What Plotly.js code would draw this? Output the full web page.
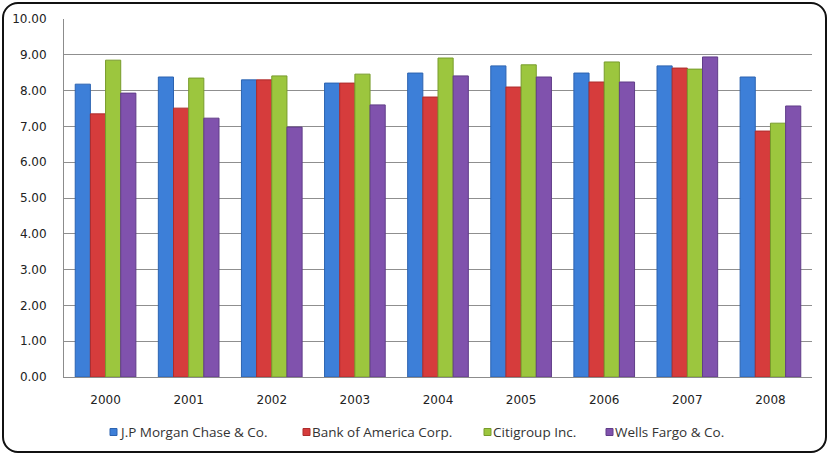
<!DOCTYPE html>
<html>
<head>
<meta charset="utf-8">
<script src="https://cdn.plot.ly/plotly-3.0.1.min.js"></script>
<style>
html,body{margin:0;padding:0;background:#fff;}
#chart{position:absolute;left:0;top:0;width:829px;height:455px;}
#frame{position:absolute;left:2px;top:2px;width:821px;height:447px;border:2px solid #111;border-radius:16px;pointer-events:none;}
</style>
</head>
<body>
<div id="chart"></div>
<div id="frame"></div>
<script>
const years = ["2000","2001","2002","2003","2004","2005","2006","2007","2008"];
const jpMorgan = [8.18, 8.38, 8.30, 8.21, 8.49, 8.69, 8.49, 8.69, 8.38];
const bankOfAmerica = [7.35, 7.51, 8.30, 8.21, 7.82, 8.10, 8.24, 8.63, 6.87];
const citigroup = [8.85, 8.35, 8.41, 8.46, 8.91, 8.72, 8.80, 8.60, 7.09];
const wellsFargo = [7.93, 7.23, 6.98, 7.60, 8.41, 8.38, 8.24, 8.94, 7.57];
const seriesNames = ["J.P Morgan Chase & Co.", "Bank of America Corp.", "Citigroup Inc.", "Wells Fargo & Co."];
const yTickVals = [0,1,2,3,4,5,6,7,8,9,10];
const yTickText = ["0.00","1.00","2.00","3.00","4.00","5.00","6.00","7.00","8.00","9.00","10.00"];

const colors = ["#3d7fd8", "#d63c3c", "#9cc63e", "#8052ad"];
const lines = ["#2c63b0", "#ad2c2c", "#789c2c", "#603d88"];
const allSeries = [jpMorgan, bankOfAmerica, citigroup, wellsFargo];

const traces = allSeries.map((vals, i) => ({
  type: "bar",
  name: seriesNames[i],
  x: years,
  y: vals,
  marker: {color: colors[i], line: {color: lines[i], width: 1}},
  hoverinfo: "x+y+name",
  showlegend: false
}));

// Manual legend (Excel-style: small square right next to the text)
const W = 829, H = 455, ML = 64, MR = 17, MT = 19, MB = 78;
const PW = W - ML - MR, PH = H - MT - MB;
const px2x = p => (p - ML) / PW;
const py2y = p => (H - MB - p) / PH;
const legendTextLeft = [119, 312, 493, 615];
const legendY = 432;
const shapes = [];
const annotations = [];
seriesNames.forEach((name, i) => {
  const sx = legendTextLeft[i] - 9;
  shapes.push({
    type: "rect", xref: "paper", yref: "paper",
    x0: px2x(sx), x1: px2x(sx + 7), y0: py2y(legendY + 3.5), y1: py2y(legendY - 3.5),
    fillcolor: colors[i], line: {color: lines[i], width: 1}
  });
  annotations.push({
    xref: "paper", yref: "paper", x: px2x(legendTextLeft[i] - 2), y: py2y(legendY),
    xanchor: "left", yanchor: "middle", showarrow: false, text: name,
    font: {family: "Open Sans, Liberation Sans, sans-serif", size: 13.5, color: "#333"}
  });
});

const layout = {
  width: W, height: H,
  margin: {l: ML, r: MR, t: MT, b: MB},
  paper_bgcolor: "rgba(0,0,0,0)",
  plot_bgcolor: "#fff",
  barmode: "group",
  bargap: 0.27,
  bargroupgap: 0,
  showlegend: false,
  shapes: shapes,
  annotations: annotations,
  xaxis: {
    type: "category",
    showline: true, linecolor: "#8c8c8c", linewidth: 1,
    showgrid: false, ticks: "",
    tickfont: {family: "DejaVu Sans, Verdana, sans-serif", size: 12, color: "#222"},
    ticklabelstandoff: 12
  },
  yaxis: {
    range: [0, 10],
    tickvals: yTickVals, ticktext: yTickText,
    showline: true, linecolor: "#8c8c8c", linewidth: 1,
    showgrid: true, gridcolor: "#8f8f8f", gridwidth: 1,
    zeroline: false, ticks: "",
    tickfont: {family: "DejaVu Sans, Verdana, sans-serif", size: 12, color: "#222"},
    ticklabelstandoff: 14
  }
};

Plotly.newPlot("chart", traces, layout, {displayModeBar: false, staticPlot: true});
</script>
</body>
</html>
